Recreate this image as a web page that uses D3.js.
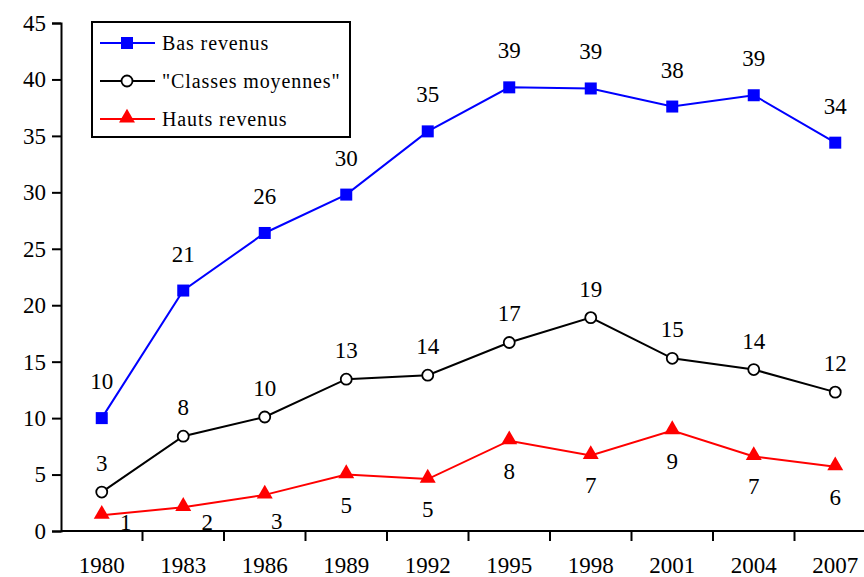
<!DOCTYPE html>
<html>
<head>
<meta charset="utf-8">
<script src="https://cdn.jsdelivr.net/npm/d3@7"></script>
<style>
  body { margin: 0; background: white; }
  svg text { font-family: "Times New Roman", "Liberation Serif", Times, serif; fill: black; }
</style>
</head>
<body>
<svg id="chart"></svg>
<script>
// years on the x axis
let years = ["1980", "1983", "1986", "1989", "1992", "1995", "1998", "2001", "2004", "2007"]

// series values
let basRevenus = [10.0, 21.3, 26.4, 29.8, 35.4, 39.3, 39.2, 37.6, 38.6, 34.4]
let classesMoyennes = [3.45, 8.4, 10.1, 13.45, 13.8, 16.7, 18.9, 15.3, 14.3, 12.3]
let hautsRevenus = [1.4, 2.1, 3.2, 5.0, 4.6, 8.0, 6.7, 8.9, 6.6, 5.7]

let seriesNames = ["Bas revenus", "\"Classes moyennes\"", "Hauts revenus"]
let yTicks = [0, 5, 10, 15, 20, 25, 30, 35, 40, 45]

let width = 864
let height = 577
let font = "'Times New Roman', 'Liberation Serif', serif"

let svg = d3.select("#chart")
    .attr("width", width)
    .attr("height", height)

let x = d3.scaleBand().domain(years).range([61, 876])
let y = d3.scaleLinear().domain([0, 45]).range([531, 23])

// y axis, ticks on the outside
let yAxis = svg.append("g")
    .attr("transform", "translate(61,0)")
    .call(d3.axisLeft(y).tickValues(yTicks).tickSize(9).tickPadding(6))
yAxis.attr("font-family", font).attr("font-size", 23)
yAxis.select(".domain").attr("stroke", "black").attr("stroke-width", 2)
yAxis.selectAll(".tick line").attr("stroke-width", 2)

// x axis, ticks between categories
let xAxis = svg.append("g")
    .attr("transform", "translate(0,531)")
    .attr("font-family", font)
xAxis.append("line")
    .attr("x1", 61).attr("x2", 876)
    .attr("stroke", "black").attr("stroke-width", 2)
xAxis.selectAll(".xtick").data(years)
    .enter().append("line")
    .attr("x1", d => x(d) + x.bandwidth())
    .attr("x2", d => x(d) + x.bandwidth())
    .attr("y1", 0).attr("y2", 10)
    .attr("stroke", "black").attr("stroke-width", 2)
xAxis.selectAll(".xlabel").data(years)
    .enter().append("text")
    .attr("x", d => x(d) + x.bandwidth() / 2)
    .attr("y", 42)
    .attr("text-anchor", "middle")
    .attr("font-size", 23)
    .text(d => d)

let cx = (d, i) => x(years[i]) + x.bandwidth() / 2

let series = [
    {name: seriesNames[0], values: basRevenus, color: "#0000ff", marker: "square"},
    {name: seriesNames[1], values: classesMoyennes, color: "black", marker: "circle"},
    {name: seriesNames[2], values: hautsRevenus, color: "#ff0000", marker: "triangle"}
]

let line = d3.line().x(cx).y(d => y(d))

function drawMarker(g, s) {
    if (s.marker == "square") {
        g.append("rect").attr("x", -6).attr("y", -6).attr("width", 12).attr("height", 12)
            .attr("fill", s.color)
    } else if (s.marker == "circle") {
        g.append("circle").attr("r", 5.5).attr("fill", "white")
            .attr("stroke", s.color).attr("stroke-width", 1.8)
    } else {
        g.append("path").attr("d", d3.symbol().type(d3.symbolTriangle).size(110)())
            .attr("transform", "translate(0,-1)")
            .attr("fill", s.color)
    }
}

series.forEach(s => {
    svg.append("path")
        .datum(s.values)
        .attr("d", line)
        .attr("fill", "none")
        .attr("stroke", s.color)
        .attr("stroke-width", 2)

    s.values.forEach((v, i) => {
        let g = svg.append("g").attr("transform", `translate(${cx(v, i)},${y(v)})`)
        drawMarker(g, s)
    })
})

// value labels
function labelPos(s, v, i) {
    let px = cx(v, i), py = y(v)
    if (s.marker == "square") return {x: px, y: py - 29}
    if (s.marker == "circle") return {x: px, y: py - 21}
    // below the red points, nudged right when too near the axis
    let ly = py + 38
    if (ly > 521) {
        let over = ly - 521
        return {x: px + Math.min(over, 24), y: 530 - Math.max(0, 20 - over) * 0.1}
    }
    return {x: px, y: ly}
}

series.forEach(s => {
    s.values.forEach((v, i) => {
        let p = labelPos(s, v, i)
        svg.append("text")
            .attr("x", p.x)
            .attr("y", p.y)
            .attr("text-anchor", "middle")
            .attr("font-size", 23)
            .text(Math.round(v))
    })
})

// legend
let legend = svg.append("g")
legend.append("rect")
    .attr("x", 92).attr("y", 22).attr("width", 258).attr("height", 115)
    .attr("fill", "white").attr("stroke", "black").attr("stroke-width", 2)

series.forEach((s, i) => {
    let ly = 43 + i * 38
    legend.append("line")
        .attr("x1", 100).attr("x2", 155).attr("y1", ly).attr("y2", ly)
        .attr("stroke", s.color).attr("stroke-width", 2)
    let g = legend.append("g").attr("transform", `translate(127,${ly})`)
    drawMarker(g, s)
    legend.append("text")
        .attr("x", 162).attr("y", ly + 7)
        .attr("font-size", 20)
        .style("letter-spacing", "0.9px")
        .text(s.name)
})
</script>
</body>
</html>
